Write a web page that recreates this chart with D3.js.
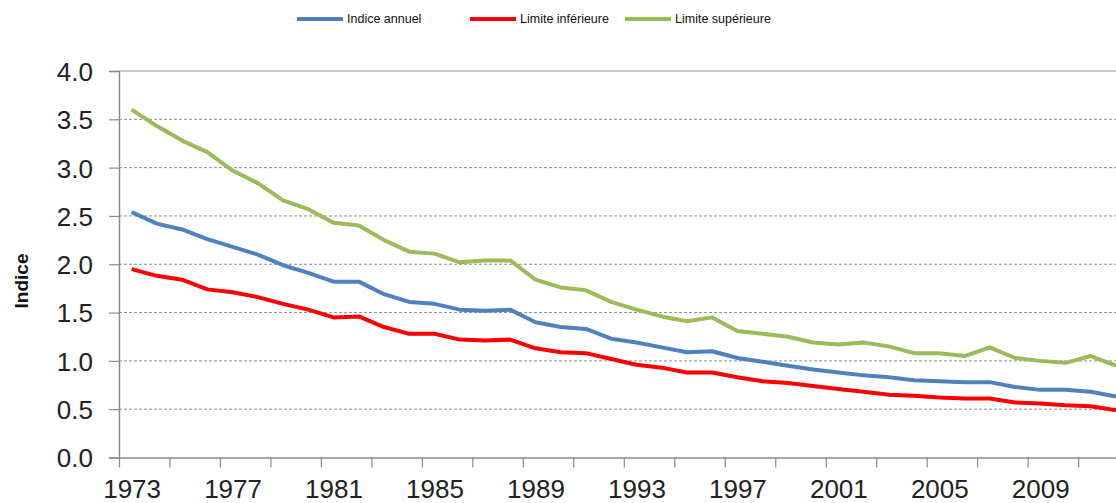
<!DOCTYPE html>
<html>
<head>
<meta charset="utf-8">
<script src="https://cdn.jsdelivr.net/npm/d3@7"></script>
<style>
  html, body { margin: 0; padding: 0; background: #fff; }
  svg { display: block; }
</style>
</head>
<body>
<svg id="chart" width="1116" height="503"></svg>
<script>
const years = d3.range(1973, 2013);
const indiceAnnuel = [2.54, 2.42, 2.36, 2.26, 2.18, 2.10, 1.99, 1.91, 1.82, 1.82,
  1.69, 1.61, 1.59, 1.53, 1.52, 1.53, 1.40, 1.35, 1.33, 1.23,
  1.19, 1.14, 1.09, 1.10, 1.03, 0.99, 0.95, 0.91, 0.88, 0.85,
  0.83, 0.80, 0.79, 0.78, 0.78, 0.73, 0.70, 0.70, 0.68, 0.63];
const limiteInferieure = [1.95, 1.88, 1.84, 1.74, 1.71, 1.66, 1.59, 1.53, 1.45, 1.46,
  1.35, 1.28, 1.28, 1.22, 1.21, 1.22, 1.13, 1.09, 1.08, 1.02,
  0.96, 0.93, 0.88, 0.88, 0.83, 0.79, 0.77, 0.74, 0.71, 0.68,
  0.65, 0.64, 0.62, 0.61, 0.61, 0.57, 0.56, 0.54, 0.53, 0.49];
const limiteSuperieure = [3.60, 3.43, 3.28, 3.16, 2.97, 2.84, 2.66, 2.57, 2.43, 2.40,
  2.25, 2.13, 2.11, 2.02, 2.04, 2.04, 1.84, 1.76, 1.73, 1.61,
  1.53, 1.46, 1.41, 1.45, 1.31, 1.28, 1.25, 1.19, 1.17, 1.19,
  1.15, 1.08, 1.08, 1.05, 1.14, 1.03, 1.00, 0.98, 1.05, 0.95];
const seriesNames = ["Indice annuel", "Limite inférieure", "Limite supérieure"];
const seriesColors = ["#4f81bd", "#ff0000", "#9bbb59"];
const yTicks = [0, 0.5, 1, 1.5, 2, 2.5, 3, 3.5, 4];
const xLabelYears = [1973, 1977, 1981, 1985, 1989, 1993, 1997, 2001, 2005, 2009];
const yTitle = "Indice";

const svg = d3.select("#chart");
const mLeft = 119, mBottom = 457.5, mTop = 71;
const band = 25.24;
const x = d3.scaleLinear().domain([1972.5, 2012.5]).range([mLeft, mLeft + 40 * band]);
const y = d3.scaleLinear().domain([0, 4]).range([mBottom, mTop]);
const axisColor = "#8a8a8a";

// gridlines
svg.append("g").selectAll("line")
  .data(yTicks.filter(v => v > 0))
  .join("line")
  .attr("x1", mLeft).attr("x2", x.range()[1])
  .attr("y1", d => y(d)).attr("y2", d => y(d))
  .attr("stroke", d => d === 4 ? "#9a9a9a" : "#8c8c8c")
  .attr("stroke-width", 1)
  .attr("stroke-dasharray", d => d === 4 ? null : "3,2");

// y axis
const yAxis = svg.append("g").attr("transform", `translate(${mLeft},0)`)
  .call(d3.axisLeft(y).tickValues(yTicks).tickFormat(d3.format(".1f")).tickSize(10).tickPadding(16));
yAxis.select(".domain").attr("stroke", axisColor).attr("stroke-width", 1.5);
yAxis.selectAll(".tick line").attr("stroke", axisColor).attr("stroke-width", 1.2);
yAxis.selectAll(".tick text")
  .attr("font-family", "Liberation Sans, Arial, sans-serif")
  .attr("font-size", 26).attr("fill", "#222").attr("dy", "0.36em");

// x axis ticks (between categories, every 2)
const tickVals = d3.range(1972.5, 2013, 2);
const xAxis = svg.append("g").attr("transform", `translate(0,${mBottom})`)
  .call(d3.axisBottom(x).tickValues(tickVals).tickFormat("").tickSize(10).tickSizeOuter(0));
xAxis.select(".domain").attr("stroke", axisColor).attr("stroke-width", 1.5);
xAxis.selectAll(".tick line").attr("stroke", axisColor).attr("stroke-width", 1.2);

// x labels
const xLab = svg.append("g").attr("transform", `translate(0,${mBottom})`)
  .call(d3.axisBottom(x).tickValues(xLabelYears).tickFormat(d3.format("d")).tickSize(0).tickPadding(0));
xLab.select(".domain").remove();
xLab.selectAll(".tick text")
  .attr("font-family", "Liberation Sans, Arial, sans-serif")
  .attr("font-size", 26).attr("fill", "#222")
  .attr("dy", null).attr("y", 40.5);

// y title
svg.append("text")
  .attr("transform", "translate(28,281) rotate(-90)")
  .attr("text-anchor", "middle")
  .attr("font-family", "Liberation Sans, Arial, sans-serif")
  .attr("font-weight", "bold").attr("font-size", 19).attr("fill", "#111")
  .text(yTitle);

// lines
const data = [indiceAnnuel, limiteInferieure, limiteSuperieure];
const line = d3.line().x((d, i) => x(years[i])).y(d => y(d));
const drawOrder = [2, 0, 1];
svg.append("g").selectAll("path")
  .data(drawOrder)
  .join("path")
  .attr("d", k => line(data[k]))
  .attr("fill", "none")
  .attr("stroke", k => seriesColors[k])
  .attr("stroke-width", 4)
  .attr("stroke-linejoin", "round");

// legend
const legendX = [297, 470, 625];
const lg = svg.append("g").selectAll("g").data(seriesNames).join("g")
  .attr("transform", (d, i) => `translate(${legendX[i]},19)`);
lg.append("line").attr("x1", 0).attr("x2", 46).attr("y1", 0).attr("y2", 0)
  .attr("stroke", (d, i) => seriesColors[i]).attr("stroke-width", 4);
lg.append("text").attr("x", 50).attr("y", 0).attr("dy", "0.35em")
  .attr("font-family", "Liberation Sans, Arial, sans-serif")
  .attr("font-size", 12.5).attr("fill", "#111")
  .text(d => d);
</script>
</body>
</html>
